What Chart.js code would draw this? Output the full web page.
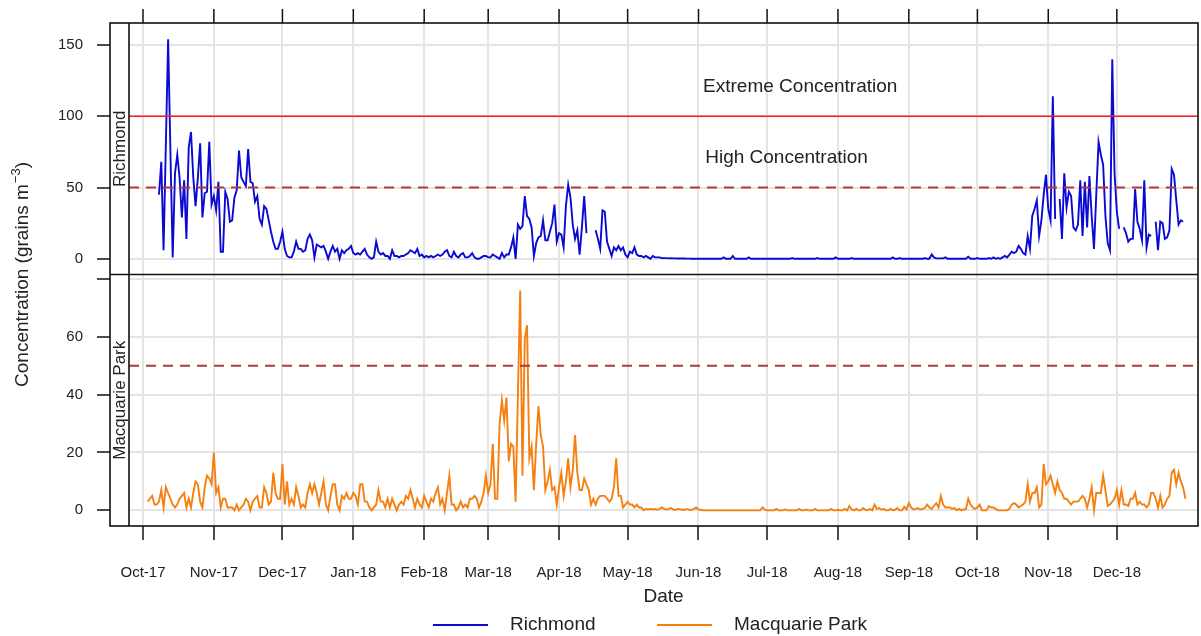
<!DOCTYPE html>
<html>
<head>
<meta charset="utf-8">
<script src="https://cdn.jsdelivr.net/npm/chart.js@4.4.1/dist/chart.umd.min.js"></script>
<style>
  html, body { margin: 0; padding: 0; background: #fff; }
</style>
</head>
<body>
<canvas id="pollenChart" width="1201" height="636"></canvas>
<script>
// day 0 = 1 Oct 2017, one value per day
const monthDays = [0, 31, 61, 92, 123, 151, 182, 212, 243, 273, 304, 335, 365, 396, 426];
const monthLabels = ['Oct-17', 'Nov-17', 'Dec-17', 'Jan-18', 'Feb-18', 'Mar-18', 'Apr-18', 'May-18',
                     'Jun-18', 'Jul-18', 'Aug-18', 'Sep-18', 'Oct-18', 'Nov-18', 'Dec-18'];
const richmondTicks = [0, 50, 100, 150];
const macquarieTicks = [0, 20, 40, 60, 80];
const extremeLevel = 100;
const highLevel = 50;

const richmondFirstDay = 7;
const richmondValues = [
    // Oct-17
    45, 68, 6, 80, 154, 75, 1, 60, 73, 57, 29, 55, 14, 78, 89, 57, 37, 57, 81, 29, 46, 47, 82, 38,
    // Nov-17
    44, 34, 54, 5, 5, 47, 42, 26, 27, 43, 48, 76, 57, 54, 51, 77, 54, 53, 40, 44, 28, 24, 37, 35, 27, 19, 12, 7, 7, 12,
    // Dec-17
    19, 7, 2, 1, 1, 5, 12, 7, 7, 5, 6, 14, 17, 13, 1, 10, 9, 8, 9, 5, 0, 5, 9, 5, 7, 0, 6, 4, 6, 7, 9,
    // Jan-18
    4, 3, 4, 3, 5, 7, 3, 1, 0, 1, 12, 5, 3, 4, 2, 2, 0, 6, 2, 2, 1, 2, 2, 3, 4, 6, 5, 4, 7, 2, 3,
    // Feb-18
    1, 2, 1, 2, 1, 2, 3, 2, 3, 5, 6, 2, 1, 5, 2, 1, 3, 4, 1, 1, 2, 4, 1, 0, 0, 1, 2, 2,
    // Mar-18
    1, 1, 3, 2, 1, 0, 4, 1, 3, 3, 8, 15, 0, 24, 21, 23, 44, 30, 28, 22, 2, 11, 15, 16, 27, 13, 13, 19, 25, 38, 12,
    // Apr-18
    18, 17, 8, 37, 52, 43, 24, 14, 20, 3, 22, 44, 18, null, null, null, 20, 14, 7, 34, 33, 12, 7, 2, 8, 6, 9, 6, 8, 3,
    // May-18
    1, 5, 4, 8, 3, 2, 2, 1, 2, 1, 0, 2, 1, 1, 1, 0.5, 0.5, 0.5, 0.3, 0.5, 0.3, 0.3, 0.2, 0.2, 0.3, 0.2, 0.1, 0.1, 0, 0, 0,
    // Jun-18
    0, 0, 0, 0, 0, 0, 0, 0, 0, 0, 0, 1, 0, 0, 0, 2, 0, 0, 0, 0, 0, 0, 1, 0, 0, 0, 0, 0, 0, 0,
    // Jul-18
    0, 0, 0, 0, 0, 0, 0, 0, 0, 0, 0, 0.5, 0, 0, 0, 0, 0, 0, 0, 0, 0, 0, 0.5, 0, 0, 0, 0, 0, 0, 0, 1,
    // Aug-18
    0, 0, 0, 0, 0, 0, 0.5, 0, 0, 0, 0, 0, 0, 0, 0, 0, 0, 0, 0, 0, 0, 0, 0, 0, 1, 0, 0, 0.5, 0, 0, 0,
    // Sep-18
    0, 0, 0, 0, 0, 0, 0, 0.5, 0, 0, 3, 1, 0.3, 0.3, 0.3, 0.3, 1, 0, 0, 0, 0, 0, 0, 0, 0, 0, 1.5, 0, 0, 0,
    // Oct-18
    0.5, 0, 0, 0, 0, 0.5, 0, 1, 0, 0.5, 0, 1, 2, 1, 3, 5, 4, 5, 9, 7, 4, 3, 16, 7, 30, 35, 41, 16, 27, 45, 59,
    // Nov-18
    35, 27, 114, 28, null, 42, 14, 60, 36, 47, 44, 22, 20, 24, 55, 16, 54, 22, 58, 30, 7, 45, 82, 73, 66, 30, 11, 6, 140, 60,
    // Dec-18
    33, 21, null, 22, 18, 12, 14, 14, 49, 26, 21, 13, 55, 8, 17, 16, null, 26, 6, 26, 25, 14, 15, 20, 63, 59, 41, 24, 27, 26
];

const macquarieFirstDay = 2;
const macquarieValues = [
    // Oct-17
    3, 4, 5, 2, 2, 3, 7, 1, 8, 6, 4, 2, 1, 2, 4, 5, 6, 1, 4, 1, 6, 10, 9, 3, 1, 8, 12, 11, 9,
    // Nov-17
    20, 6, 8, 1, 4, 4, 1, 1, 1, 0, 2, 0, 1, 2, 4, 3, 0, 3, 4, 5, 1, 1, 8, 6, 2, 3, 13, 6, 4, 4,
    // Dec-17
    16, 2, 10, 2, 4, 2, 8, 5, 1, 2, 1, 6, 9, 6, 9, 6, 2, 6, 10, 2, 0, 5, 9, 9, 2, 0, 5, 4, 6, 4, 4,
    // Jan-18
    6, 5, 2, 9, 9, 3, 3, 1, 0, 1, 2, 7, 3, 3, 1, 4, 1, 4, 2, 0, 2, 3, 2, 5, 4, 7, 4, 1, 4, 2, 1,
    // Feb-18
    5, 3, 1, 4, 3, 6, 8, 2, 4, 0, 6, 12, 2, 2, 0, 1, 3, 1, 2, 1, 4, 4, 5, 4, 1, 3, 6, 12,
    // Mar-18
    6, 9, 23, 4, 4, 30, 38, 31, 39, 17, 23, 22, 3, 40, 76, 12, 59, 64, 18, 22, 7, 23, 36, 26, 22, 7, 10, 14, 7, 8, 2,
    // Apr-18
    8, 13, 5, 10, 18, 8, 14, 26, 13, 7, 7, 11, 9, 7, 2, 4, 2, 4, 5, 5, 5, 4, 3, 4, 8, 18, 5, 5, 1, 2,
    // May-18
    3, 2, 2, 1, 2, 1, 1, 0, 0.5, 0.3, 0.5, 0.3, 0.5, 0.2, 0.5, 1, 0.5, 0.3, 0.5, 0.8, 0.3, 0.2, 0.5, 0.3, 0.3, 0.2, 0.5, 0.2, 0.2, 0.5, 1,
    // Jun-18
    0.3, 0.2, 0, 0, 0, 0, 0, 0, 0, 0, 0, 0, 0, 0, 0, 0, 0, 0, 0, 0, 0, 0, 0, 0, 0, 0, 0, 0, 1, 0.2,
    // Jul-18
    0, 0, 0, 0, 0.5, 0, 0, 0, 0.3, 0, 0, 0, 0, 0, 0.5, 0, 0, 0.3, 0, 0, 0, 0.5, 0, 0, 0, 0, 0, 0, 0.5, 0, 0,
    // Aug-18
    0.2, 0, 0, 0.5, 0, 1.5, 0.3, 0, 0.5, 0, 0, 0.8, 0.2, 0, 0.5, 0, 2, 0.5, 0.8, 0.2, 0.5, 0, 0, 0.5, 0, 0.2, 0.8, 0, 0, 1.2, 0.3,
    // Sep-18
    2.5, 1, 0.3, 0.5, 0.8, 0.3, 0.5, 0.8, 2, 1, 0.5, 1.5, 2.5, 1, 5, 2, 1, 1, 1, 0.5, 0.8, 0, 0.5, 0, 0.3, 0.5, 4, 2, 1, 0.5,
    // Oct-18
    1, 2, 0, 0, 0, 1.5, 1, 1, 0.5, 0, 0, 0, 0, 0, 0.5, 2, 2.5, 2, 1, 1.5, 2, 3, 9, 3, 6, 6, 8, 1, 2, 16, 9,
    // Nov-18
    10, 12, 9, 6, 10, 7, 6, 4, 4, 3, 2, 3, 3, 3, 4, 5, 4, 1, 4, 8, 0, 6, 6, 6, 12, 7, 1.5, 2, 3, 4,
    // Dec-18
    7, 2, 7, 2, 2, 1.5, 4, 4, 6, 2, 3, 2, 2, 1, 2, 6, 6, 4, 1, 5, 1, 2, 4, 5, 13, 14, 9, 13, 10, 8, 4
];

function toPoints(firstDay, values) {
    return values.map((v, i) => ({ x: firstDay + i, y: v }));
}

const FONT = "'Liberation Sans', Arial, sans-serif";
const INK = '#222';
const BLUE = '#0a0ad2';
const ORANGE = '#f5800f';
const DARKRED = '#b23a3a';

Chart.defaults.font.family = FONT;
Chart.defaults.color = INK;

// reference lines, strips, frame, labels and legend
const overlay = {
    id: 'overlay',
    afterDatasetsDraw(chart) {
        const { ctx, chartArea: a, scales } = chart;
        const hline = (scale, value, color, dash, width) => {
            const y = scale.getPixelForValue(value);
            ctx.save();
            ctx.strokeStyle = color;
            ctx.lineWidth = width;
            ctx.setLineDash(dash);
            ctx.beginPath();
            ctx.moveTo(a.left, y);
            ctx.lineTo(a.right, y);
            ctx.stroke();
            ctx.restore();
        };
        hline(scales.yR, extremeLevel, '#ff1a1a', [], 1.6);
        hline(scales.yR, highLevel, DARKRED, [10, 7], 2);
        hline(scales.yM, highLevel, DARKRED, [10, 7], 2);
    },
    afterDraw(chart) {
        const { ctx, chartArea: a, scales } = chart;
        const x = scales.x, yR = scales.yR, yM = scales.yM;
        const stripLeft = 110;
        ctx.save();

        // strips
        ctx.fillStyle = '#fff';
        ctx.fillRect(stripLeft, a.top, a.left - stripLeft, a.bottom - a.top);
        ctx.fillStyle = INK;
        ctx.font = '17px ' + FONT;
        ctx.textAlign = 'center';
        ctx.textBaseline = 'middle';
        [[yR, 'Richmond'], [yM, 'Macquarie Park']].forEach(([s, name]) => {
            ctx.save();
            ctx.translate((stripLeft + a.left) / 2 + 1, (s.top + s.bottom) / 2);
            ctx.rotate(-Math.PI / 2);
            ctx.fillText(name, 0, 0);
            ctx.restore();
        });

        // frame
        ctx.strokeStyle = '#111';
        ctx.lineWidth = 1.6;
        ctx.strokeRect(stripLeft, a.top, a.right - stripLeft, a.bottom - a.top);
        ctx.beginPath();
        ctx.moveTo(a.left, a.top);
        ctx.lineTo(a.left, a.bottom);
        ctx.moveTo(stripLeft, yR.bottom);
        ctx.lineTo(a.right, yR.bottom);
        ctx.stroke();

        // tick marks on the top edge
        ctx.lineWidth = 1.5;
        ctx.beginPath();
        monthDays.forEach(d => {
            const px = x.getPixelForValue(d);
            ctx.moveTo(px, a.top - 14);
            ctx.lineTo(px, a.top);
        });
        ctx.stroke();

        // threshold labels
        ctx.font = '19px ' + FONT;
        ctx.fillStyle = INK;
        ctx.fillText('Extreme Concentration', x.getPixelForValue(287.5), yR.getPixelForValue(121));
        ctx.fillText('High Concentration', x.getPixelForValue(281.5), yR.getPixelForValue(71));

        // x title
        ctx.fillText('Date', (a.left + a.right) / 2, 597);

        // y title with superscript
        ctx.save();
        ctx.translate(23, 275);
        ctx.rotate(-Math.PI / 2);
        ctx.textAlign = 'left';
        const main = 'Concentration (grains m';
        ctx.font = '19px ' + FONT;
        const w1 = ctx.measureText(main).width;
        ctx.font = '13px ' + FONT;
        const w2 = ctx.measureText('\u22123').width;
        ctx.font = '19px ' + FONT;
        const w3 = ctx.measureText(')').width;
        let sx = -(w1 + w2 + w3) / 2;
        ctx.fillText(main, sx, 0);
        sx += w1 + 1;
        ctx.font = '13px ' + FONT;
        ctx.fillText('\u22123', sx, -7);
        sx += w2;
        ctx.font = '19px ' + FONT;
        ctx.fillText(')', sx, 0);
        ctx.restore();

        // legend
        const legendY = 625;
        ctx.textAlign = 'left';
        ctx.lineWidth = 2;
        [[433, BLUE, 'Richmond'], [657, ORANGE, 'Macquarie Park']].forEach(([lx, color, name]) => {
            ctx.strokeStyle = color;
            ctx.beginPath();
            ctx.moveTo(lx, legendY);
            ctx.lineTo(lx + 55, legendY);
            ctx.stroke();
            ctx.fillStyle = INK;
            ctx.fillText(name, lx + 77, legendY);
        });
        ctx.restore();
    }
};

const gridStyle = { color: '#e4e4e4', lineWidth: 2, tickColor: '#111', tickWidth: 1.5 };

new Chart(document.getElementById('pollenChart'), {
    type: 'line',
    data: {
        datasets: [
            {
                label: 'Richmond',
                data: toPoints(richmondFirstDay, richmondValues),
                yAxisID: 'yR',
                borderColor: BLUE,
                borderWidth: 1.9,
                pointRadius: 0,
                spanGaps: false,
                tension: 0
            },
            {
                label: 'Macquarie Park',
                data: toPoints(macquarieFirstDay, macquarieValues),
                yAxisID: 'yM',
                borderColor: ORANGE,
                borderWidth: 1.9,
                pointRadius: 0,
                spanGaps: false,
                tension: 0
            }
        ]
    },
    options: {
        responsive: false,
        animation: false,
        layout: { padding: { left: 0, top: 22, right: 3, bottom: 0 } },
        plugins: { legend: { display: false }, tooltip: { enabled: false } },
        scales: {
            x: {
                type: 'linear',
                position: 'bottom',
                min: -6.12,
                max: 461.5,
                afterBuildTicks: s => { s.ticks = monthDays.map(v => ({ value: v })); },
                afterFit: s => { s.height = 110; },
                grid: { ...gridStyle, tickLength: 14 },
                border: { display: false },
                ticks: {
                    autoSkip: false,
                    maxRotation: 0,
                    padding: 24,
                    font: { size: 15 },
                    callback: v => monthLabels[monthDays.indexOf(v)]
                }
            },
            yR: {
                type: 'linear',
                position: 'left',
                stack: 'panels',
                stackWeight: 1,
                weight: 2,
                min: -11,
                max: 165.4,
                afterBuildTicks: s => { s.ticks = richmondTicks.map(v => ({ value: v })); },
                afterFit: s => { s.width = 129; },
                grid: { ...gridStyle, tickLength: 32 },
                border: { display: false },
                ticks: { padding: 14, font: { size: 15 } }
            },
            yM: {
                type: 'linear',
                position: 'left',
                stack: 'panels',
                stackWeight: 1,
                weight: 1,
                min: -5.41,
                max: 81.5,
                afterBuildTicks: s => { s.ticks = macquarieTicks.map(v => ({ value: v })); },
                afterFit: s => { s.width = 129; },
                grid: { ...gridStyle, tickLength: 32 },
                border: { display: false },
                ticks: { padding: 14, font: { size: 15 }, callback: v => (v === 80 ? '' : v) }
            }
        }
    },
    plugins: [overlay]
});
</script>
</body>
</html>
